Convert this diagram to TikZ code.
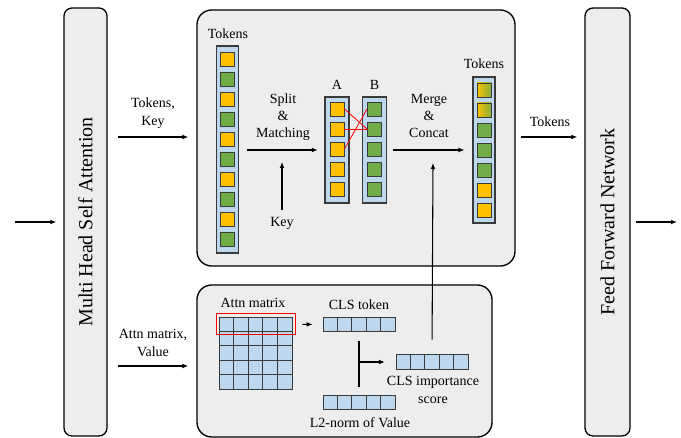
\documentclass[tikz,border=0pt]{standalone}
\usepackage{fontspec}
\setmainfont{Liberation Serif}
\usepackage{tikz}
\usetikzlibrary{arrows.meta}

\definecolor{boxgray}{HTML}{EDEDED}
\definecolor{tokorange}{HTML}{FFC000}
\definecolor{tokgreen}{HTML}{70AD47}
\definecolor{colblue}{HTML}{BDD7EE}
\definecolor{edgegray}{HTML}{3A3A3A}

\begin{document}
\begin{tikzpicture}[x=0.75pt,y=-0.75pt]
			\tikzset{block/.style = {draw=black,line width=1pt,fill=boxgray,rounded corners=6pt,inner sep=0pt}}
			\tikzset{panel/.style = {draw=black,line width=1pt,fill=boxgray,rounded corners=11pt,inner sep=0pt}}
			\tikzset{column/.style = {draw=edgegray,line width=0.8pt,fill=colblue,inner sep=0pt,minimum width=16.5pt}}
			\tikzset{tokO/.style = {draw=edgegray,line width=0.7pt,fill=tokorange,inner sep=0pt,minimum size=10.5pt}}
			\tikzset{tokG/.style = {draw=edgegray,line width=0.7pt,fill=tokgreen,inner sep=0pt,minimum size=10.5pt}}
			\tikzset{tokM/.style = {draw=edgegray,line width=0.7pt,left color=tokorange,right color=tokgreen!85!tokorange,inner sep=0pt,minimum size=10.5pt}}
			\tikzset{cell/.style = {draw=edgegray,line width=0.7pt,fill=colblue,inner sep=0pt,minimum width=10.9pt,minimum height=10.8pt}}
			\tikzset{label/.style = {font=\fontsize{10.5}{13}\selectfont,align=center,inner sep=0pt}}
			\tikzset{arr/.style = {-{Latex[length=4.5pt,width=3.6pt]},line width=0.8pt}}
			\useasboundingbox (0,0) rectangle (681,438);
			% outer blocks
			\node[block,minimum width=32.25pt,minimum height=321pt] (mhsa) at (85.5,222) {};
			\node[rotate=90,font=\fontsize{15}{18}\selectfont] (mhsatxt) at (mhsa) {Multi Head Self Attention};
			\node[block,minimum width=33.75pt,minimum height=321pt] (ffn) at (607.5,222) {};
			\node[rotate=90,font=\fontsize{15}{18}\selectfont] (ffntxt) at (ffn) {Feed Forward Network};
			\node[panel,minimum width=238.5pt,minimum height=192pt] (top) at (356,138) {};
			\node[panel,minimum width=221.25pt,minimum height=114pt] (bot) at (344.5,361) {};
			% token columns
			\node[column,minimum height=155.25pt] (lcol) at (227.5,149.5) {};
			\foreach \i in {1,...,10} {
				\ifodd\i \def\kind{tokO}\else \def\kind{tokG}\fi
				\node[\kind] (t\i) at (227.5,{39.5+20*\i}) {};
			}
			\node[column,minimum width=18pt,minimum height=79.5pt] (acol) at (337,150) {};
			\node[column,minimum width=18pt,minimum height=79.5pt] (bcol) at (374.5,150) {};
			\foreach \i in {1,...,5} {
				\node[tokO] (a\i) at (337,{89+20*\i}) {};
				\node[tokG] (b\i) at (374.5,{89+20*\i}) {};
			}
			\node[column,minimum height=109.5pt] (rcol) at (484,150) {};
			\foreach \i/\kind in {1/tokM,2/tokM,3/tokG,4/tokG,5/tokG,6/tokO,7/tokO}
				\node[\kind] (r\i) at (484,{70+20*\i}) {};
			% attention part
			\foreach \r in {1,...,5}
				\foreach \c in {1,...,5}
					\node[cell] (m\r\c) at ({211.7+14.6*\c},{309.8+14.4*\r}) {};
			\foreach \j in {1,...,5} {
				\node[cell,minimum width=10.8pt] (c\j) at ({315.8+14.4*\j},324.5) {};
				\node[cell,minimum width=10.8pt] (s\j) at ({388.8+14.4*\j},362) {};
				\node[cell,minimum width=10.8pt] (l\j) at ({315.8+14.4*\j},402.5) {};
			}
			% labels
			\node[label] (tokin) at (228,34) {Tokens};
			\node[label] (split) at (283,117) {Split\\\&\\Matching};
			\node[label] (key) at (282,223) {Key};
			\node[label] (alab) at (337,85) {A};
			\node[label] (blab) at (374.5,85) {B};
			\node[label] (merge) at (429,116) {Merge\\\&\\Concat};
			\node[label] (tokout) at (484,64) {Tokens};
			\node[label] (tklab) at (153,113) {Tokens,\\Key};
			\node[label] (avlab) at (153,343) {Attn matrix,\\Value};
			\node[label] (tflab) at (550,122) {Tokens};
			\node[label] (attn) at (253,303) {Attn matrix};
			\node[label] (cls) at (359,305) {CLS token};
			\node[label] (score) at (433,390) {CLS importance\\score};
			\node[label] (l2) at (360,423) {L2-norm of Value};
			% free ends
			\coordinate (in) at (15,222);
			\coordinate (out) at (677,222);
			\coordinate (tk) at (150,137);
			\coordinate (av) at (150,366);
			\coordinate (keyend) at (282,162);
			\coordinate (mgend) at (433,163);
			\coordinate (jn) at (c3 |- s1);
			% edges
			\draw[arr,shorten >=5.25pt] (in) -- (mhsa.west |- in);
			\draw[arr,shorten <=7.5pt,shorten >=6pt] (mhsa.east |- tk) -- (top.west |- tk);
			\draw[arr,shorten <=7.5pt,shorten >=6pt] (mhsa.east |- av) -- (bot.west |- av);
			\draw[arr,shorten <=3.75pt,shorten >=5.25pt] (top.east |- tk) -- (ffn.west |- tk);
			\draw[arr,shorten <=3.75pt] (ffn.east |- out) -- (out);
			\draw[arr,shorten <=6pt,shorten >=5pt] (lcol.east |- acol) -- (acol.west);
			\draw[arr,shorten <=5pt] (key) -- (keyend);
			\draw[arr,shorten <=4.5pt,shorten >=6pt] (bcol.east) -- (rcol.west |- bcol);
			\draw[arr,shorten <=11pt] (s3.north) -- (mgend);
			\draw[red,line width=0.6pt] (a1.east) -- (b2.west);
			\draw[red,line width=0.6pt] (a2.east) -- (b2.west);
			\draw[red,line width=0.6pt] (a3.east) -- (b1.west);
			\draw[red,line width=0.9pt] ([xshift=-1.5pt,yshift=2.2pt]m11.north west) rectangle ([xshift=2.2pt,yshift=-1.8pt]m15.south east);
			\draw[arr,shorten <=7.5pt,shorten >=7.5pt] (m15.east) -- (c1.west);
			\draw[line width=0.8pt,shorten <=6.75pt,shorten >=6pt] (c3.south) -- (l3.north);
			\draw[arr,shorten >=8pt] (jn) -- (s1.west);
		\end{tikzpicture}
\end{document}
